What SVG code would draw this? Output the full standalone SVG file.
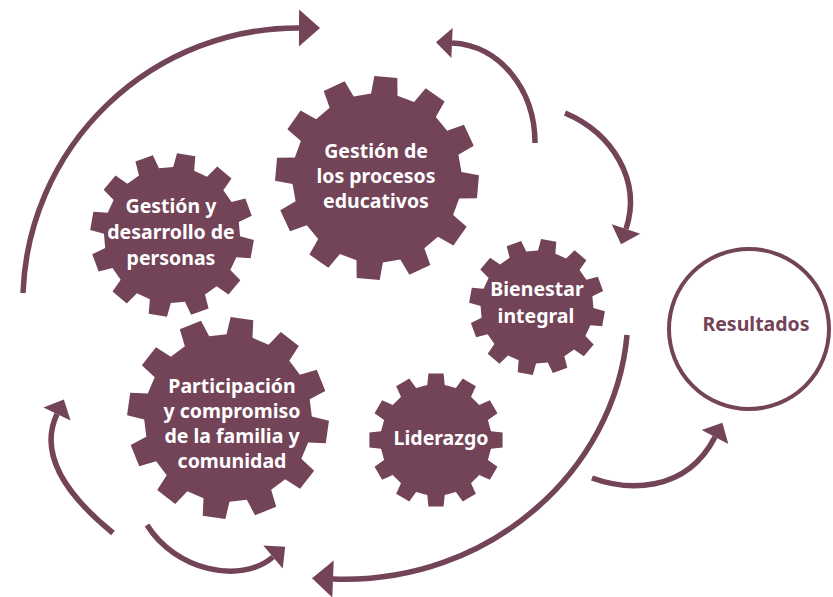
<svg xmlns="http://www.w3.org/2000/svg" xmlns:xlink="http://www.w3.org/1999/xlink" width="833" height="597" viewBox="0 0 833 597">
<style>
.gear{fill:#734357}
.t{font-family:"Noto Sans","Open Sans",sans-serif;font-weight:700;font-size:19.5px;fill:#ffffff;text-anchor:middle}
.tr{fill:#734357}
.c{fill:none;stroke:#734357;stroke-width:5.5;stroke-linecap:butt}
.sm{marker-end:url(#ah-sm)}
.lg{marker-end:url(#ah-lg)}
</style>
<defs>
<path id="gear" d="M81.98,-12.98 L99.36,-11.32 L99.36,11.32 L81.98,12.98 L77.49,29.74 L91.71,39.88 L80.39,59.48 L64.50,52.23 L52.23,64.50 L59.48,80.39 L39.88,91.71 L29.74,77.49 L12.98,81.98 L11.32,99.36 L-11.32,99.36 L-12.98,81.98 L-29.74,77.49 L-39.88,91.71 L-59.48,80.39 L-52.23,64.50 L-64.50,52.23 L-80.39,59.48 L-91.71,39.88 L-77.49,29.74 L-81.98,12.98 L-99.36,11.32 L-99.36,-11.32 L-81.98,-12.98 L-77.49,-29.74 L-91.71,-39.88 L-80.39,-59.48 L-64.50,-52.23 L-52.23,-64.50 L-59.48,-80.39 L-39.88,-91.71 L-29.74,-77.49 L-12.98,-81.98 L-11.32,-99.36 L11.32,-99.36 L12.98,-81.98 L29.74,-77.49 L39.88,-91.71 L59.48,-80.39 L52.23,-64.50 L64.50,-52.23 L80.39,-59.48 L91.71,-39.88 L77.49,-29.74 Z"/>
<marker id="ah-sm" markerUnits="userSpaceOnUse" markerWidth="17" markerHeight="30" refX="0" refY="15" orient="auto" overflow="visible"><path d="M0,0 L16,15 L0,30 Z" fill="#734357"/></marker>
<marker id="ah-lg" markerUnits="userSpaceOnUse" markerWidth="22" markerHeight="38" refX="0" refY="18.5" orient="auto" overflow="visible"><path d="M0,0 L21,18.5 L0,37 Z" fill="#734357"/></marker>
</defs>
<g id="connectors">
<path class="c lg" d="M23,293 A275,275 0 0 1 299,28"/>
<path class="c sm" d="M535,143 C535,90 500,45 452,43"/>
<path class="c sm" d="M565,113 C612,133 642,180 626,229"/>
<path class="c lg" d="M627,335 C615,470 490,585 333,579"/>
<path class="c sm" d="M592,478 C625,490 685,495 715,437"/>
<path class="c sm" d="M113,533 C60,490 40,450 57,414"/>
<path class="c sm" d="M147,525 C175,570 240,585 273,557"/>
</g>
<g id="gestion-procesos">
<use xlink:href="#gear" href="#gear" class="gear" transform="translate(377,178) rotate(5) scale(1.02)"/>
<text class="t" x="376" y="158">Gestión de</text>
<text class="t" x="376" y="183">los procesos</text>
<text class="t" x="376" y="208">educativos</text>
</g>
<g id="gestion-personas">
<use xlink:href="#gear" href="#gear" class="gear" transform="translate(172,235) rotate(10) scale(0.82)"/>
<text class="t" x="171" y="213">Gestión y</text>
<text class="t" x="171" y="239">desarrollo de</text>
<text class="t" x="171" y="265">personas</text>
</g>
<g id="bienestar">
<use xlink:href="#gear" href="#gear" class="gear" transform="translate(537,307) rotate(10) scale(0.68)"/>
<text class="t" x="537" y="296">Bienestar</text>
<text class="t" x="536" y="323">integral</text>
</g>
<g id="liderazgo">
<use xlink:href="#gear" href="#gear" class="gear" transform="translate(436,440) rotate(0) scale(0.67)"/>
<text class="t" x="441" y="445">Liderazgo</text>
</g>
<g id="participacion">
<use xlink:href="#gear" href="#gear" class="gear" transform="translate(228,418) rotate(8) scale(1.01)"/>
<text class="t" x="232" y="393">Participación</text>
<text class="t" x="232" y="418">y compromiso</text>
<text class="t" x="232" y="443">de la familia y</text>
<text class="t" x="232" y="468">comunidad</text>
</g>
<g id="resultados">
<circle cx="749" cy="329" r="80" fill="none" stroke="#734357" stroke-width="4"/>
<text class="t tr" x="756" y="331">Resultados</text>
</g>
</svg>
